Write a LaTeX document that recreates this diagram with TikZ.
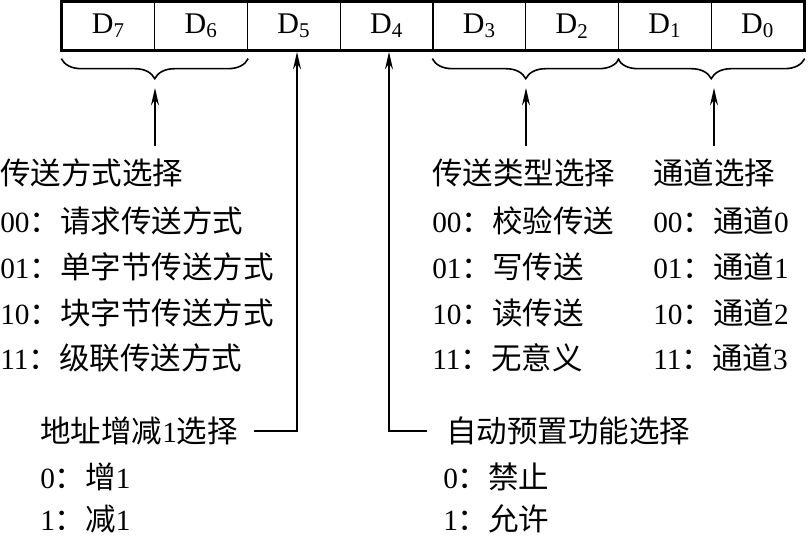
\documentclass[tikz,border=0pt]{standalone}
\usepackage{fontspec}
\setmainfont{Liberation Serif}
\newfontfamily\cjk[Scale=1.04]{Noto Sans CJK SC}
\newcommand{\zh}[1]{{\cjk #1}}
\usetikzlibrary{arrows.meta, decorations.pathreplacing, positioning}

\begin{document}
\begin{tikzpicture}[x=0.75pt, y=-0.75pt, >={Stealth[length=13pt, width=6pt]},
    cell/.style={draw, line width=1pt, minimum width=69.56pt, minimum height=36pt, inner sep=0pt, font=\fontsize{22.5}{26}\selectfont},
    txt/.style={anchor=west, inner sep=0pt, font=\fontsize{22}{26}\selectfont},
    brc/.style={decorate, decoration={brace, mirror, amplitude=15pt}, line width=1.2pt},
    wire/.style={line width=1.2pt}]
    \useasboundingbox (0,0) rectangle (808,537);

    % register
    \foreach \b [count=\k from 0] in {7,6,...,0}
        \node[cell] (d\b) at ({62+92.75*(\k+0.5)},26) {D\textsubscript{\b}};
    \draw[line width=2pt] (d7.north west) rectangle (d0.south east);

    % braces
    \draw[brc] ([yshift=-6pt]d7.south west) -- ([yshift=-6pt]d6.south east);
    \draw[brc] ([yshift=-6pt]d3.south west) -- ([yshift=-6pt]d2.south east);
    \draw[brc] ([yshift=-6pt]d1.south west) -- ([yshift=-6pt]d0.south east);

    % left column
    \node[txt] (mode)  at (0,173) {\zh{传送方式选择}};
    \node[txt] (mode0) at (0,221) {00\zh{：请求传送方式}};
    \node[txt] (mode1) at (0,267) {01\zh{：单字节传送方式}};
    \node[txt] (mode2) at (0,313) {10\zh{：块字节传送方式}};
    \node[txt] (mode3) at (0,358) {11\zh{：级联传送方式}};

    % middle column
    \node[txt] (type)  at (432,173) {\zh{传送类型选择}};
    \node[txt] (type0) at (432,221) {00\zh{：校验传送}};
    \node[txt] (type1) at (432,267) {01\zh{：写传送}};
    \node[txt] (type2) at (432,313) {10\zh{：读传送}};
    \node[txt] (type3) at (432,358) {11\zh{：无意义}};

    % right column
    \node[txt] (chan)  at (653,173) {\zh{通道选择}};
    \node[txt] (chan0) at (653,221) {00\zh{：通道}0};
    \node[txt] (chan1) at (653,267) {01\zh{：通道}1};
    \node[txt] (chan2) at (653,313) {10\zh{：通道}2};
    \node[txt] (chan3) at (653,358) {11\zh{：通道}3};

    % bottom
    \node[txt] (addr)  at (40,431) {\zh{地址增减}1\zh{选择}};
    \node[txt] (addr0) at (40,477) {0\zh{：增}1};
    \node[txt] (addr1) at (40,519) {1\zh{：减}1};
    \node[txt] (auto)  at (446,431) {\zh{自动预置功能选择}};
    \node[txt] (auto0) at (443,477) {0\zh{：禁止}};
    \node[txt] (auto1) at (443,519) {1\zh{：允许}};

    % arrows
    \coordinate (tip76) at (155,88);
    \coordinate (tip32) at (526,88);
    \coordinate (tip10) at (714,88);
    \coordinate (tip5) at (297,52);
    \coordinate (tip4) at (389,52);
    \draw[->, wire] (155,146) -- (tip76);
    \draw[->, wire] (526,146) -- (tip32);
    \draw[->, wire] (714,146) -- (tip10);
    \draw[->, wire] ([xshift=12pt]addr.east) -| (tip5);
    \draw[->, wire] ([xshift=-14pt]auto.west) -| (tip4);
\end{tikzpicture}
\end{document}
